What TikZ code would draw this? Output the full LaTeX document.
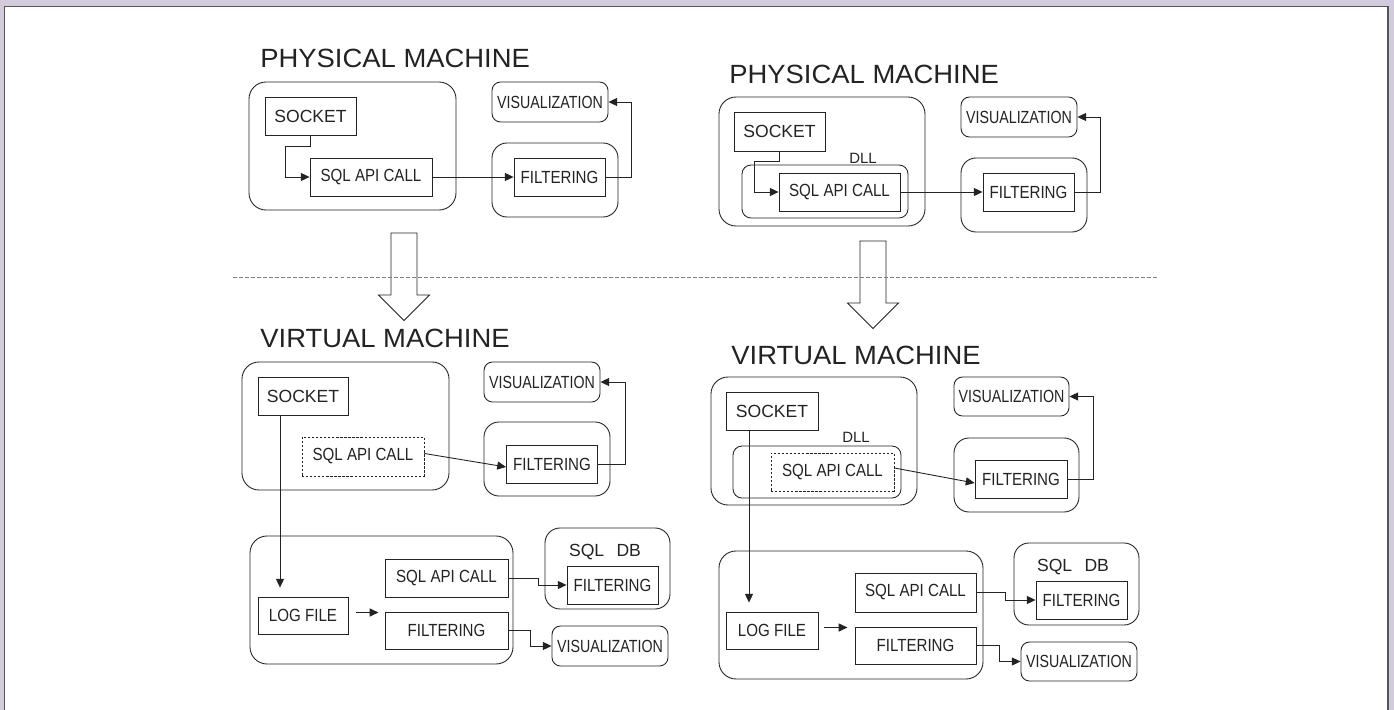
\documentclass[tikz,border=0pt]{standalone}
\usepackage{fontspec}
\setsansfont{Liberation Sans}
\newfontfamily\narrowsf[FakeStretch=0.86]{Liberation Sans}
\newfontfamily\vnarrowsf[FakeStretch=0.81]{Liberation Sans}
\newfontfamily\titlesf[FakeStretch=1.04]{Liberation Sans}
\usepackage{tikz}
\usetikzlibrary{arrows.meta,positioning,calc}
\definecolor{frameback}{RGB}{211,202,221}
\definecolor{frameline}{RGB}{85,85,85}
\definecolor{ink}{RGB}{35,35,35}

\def\pw{0.02cm}
\tikzset{
  sz/.style 2 args={minimum width=#1*\pw, minimum height=#2*\pw},
  box/.style={draw=ink, line width=0.5pt, inner sep=0pt, text=ink, font=\narrowsf\fontsize{10}{12}\selectfont},
  sockbox/.style={box, font=\sffamily\fontsize{10}{12}\selectfont},
  visbox/.style={box, rounded corners=0.17cm, font=\vnarrowsf\fontsize{10}{12}\selectfont},
  apibox/.style={box, dash pattern=on 1.3pt off 1pt},
  machine/.style={draw=ink, line width=0.5pt, rounded corners=0.34cm, inner sep=0pt},
  holder/.style={draw=ink, line width=0.5pt, rounded corners=0.3cm, inner sep=0pt},
  dllbox/.style={draw=ink, line width=0.5pt, rounded corners=0.18cm, inner sep=0pt},
  title/.style={anchor=base west, inner sep=0pt, text=ink, font=\titlesf\fontsize{15}{18}\selectfont},
  small/.style={inner sep=0pt, text=ink, font=\sffamily\fontsize{8.5}{10}\selectfont},
  dbtext/.style={inner sep=0pt, text=ink, font=\sffamily\fontsize{10}{12}\selectfont},
  flow/.style={->, draw=ink, line width=0.5pt},
  >={Triangle[length=5pt,width=4.6pt]}
}

\begin{document}
\begin{tikzpicture}[x=0.02cm, y=-0.02cm]
    \useasboundingbox (0,0) rectangle (1394,710);
    % frame
    \fill[frameback] (0,0) rectangle (1394,710);
    \fill[white] (4.5,6.5) rectangle (1388,710);
    \draw[frameline, line width=1.1pt] (4.5,710) -- (4.5,6.5) -- (1388,6.5) -- (1388,710);

    % physical machine (left)
    \node[title] (titA) at (260,68) {PHYSICAL MACHINE};
    \node[machine, sz={207}{128}] (pmA) at (352.5,146) {};
    \node[sockbox, sz={91}{38}] (sockA) at (310.5,116) {SOCKET};
    \node[box, sz={122}{38}] (sqlA) at (371,177) {SQL API CALL};
    \node[visbox, sz={116}{40}] (visA) at (550,102) {VISUALIZATION};
    \node[holder, sz={126}{74}] (fbA) at (555,180) {};
    \node[box, sz={91}{38}] (filA) at (559.5,177) {FILTERING};
    \draw[flow] (sockA.south) -- ++(0,11) -| ([xshift=-24*\pw]sqlA.west) -- (sqlA.west);
    \draw[flow] (sqlA) -- (filA);
    \draw[flow] (filA.east) -- ++(26,0) |- (visA.east);

    % physical machine (right), with DLL
    \node[title] (titB) at (729,83) {PHYSICAL MACHINE};
    \node[machine, sz={206}{129}] (pmB) at (822,161.5) {};
    \node[sockbox, sz={91}{39}] (sockB) at (779.5,131.5) {SOCKET};
    \node[dllbox, sz={166}{53}] (dllB) at (825,191.5) {};
    \node[small] (dllLblB) at (863,158) {DLL};
    \node[box, sz={121}{38}] (sqlB) at (839.5,192) {SQL API CALL};
    \node[visbox, sz={116}{40}] (visB) at (1019,117) {VISUALIZATION};
    \node[holder, sz={126}{74}] (fbB) at (1024,195) {};
    \node[box, sz={91}{38}] (filB) at (1028.5,192) {FILTERING};
    \draw[flow] (sockB.south) -- ++(0,10) -| ([xshift=-24*\pw]sqlB.west) -- (sqlB.west);
    \draw[flow] (sqlB) -- (filB);
    \draw[flow] (filB.east) -- ++(26,0) |- (visB.east);

    % hollow arrows and separator
    \foreach \x/\y in {404/233, 873/241}
        \draw[ink, line width=0.5pt] (\x-13,\y) -- (\x+13,\y) -- (\x+13,\y+62) -- (\x+25.5,\y+62)
            -- (\x,\y+87.5) -- (\x-25.5,\y+62) -- (\x-13,\y+62) -- cycle;
    \draw[gray, line width=0.6pt, dash pattern=on 2.2pt off 1.2pt] (233,277.5) -- (1158,277.5);

    % virtual machine (left)
    \node[title] (titC) at (260,347) {VIRTUAL MACHINE};
    \node[machine, sz={207}{128}] (vmC) at (345.5,426) {};
    \node[sockbox, sz={90}{38}] (sockC) at (303,396) {SOCKET};
    \node[apibox, sz={122}{39}] (sqlC) at (363,456.5) {SQL API CALL};
    \node[visbox, sz={116}{40}] (visC) at (542,382) {VISUALIZATION};
    \node[holder, sz={126}{74}] (fbC) at (547,459) {};
    \node[box, sz={91}{38}] (filC) at (552,464) {FILTERING};
    \draw[flow] ([yshift=3*\pw]sqlC.east) -- ([yshift=-3*\pw]filC.west);
    \draw[flow] (filC.east) -- ++(27,0) |- (visC.east);

    \node[machine, sz={263}{128}] (lbC) at (381.5,600) {};
    \node[box, sz={123}{38}] (sql2C) at (446.5,578) {SQL API CALL};
    \node[box, sz={90}{37}] (logC) at (303,615.5) {LOG FILE};
    \node[box, sz={123}{37}] (fil2C) at (446.5,630.5) {FILTERING};
    \node[holder, sz={125}{81}] (dbC) at (607.5,568.5) {};
    \node[dbtext] (dbLblC) at (605,552) {SQL\hspace{7pt}DB};
    \node[box, sz={91}{38}] (dbfilC) at (612.5,585) {FILTERING};
    \node[visbox, sz={116}{40}] (vis2C) at (610,646) {VISUALIZATION};
    \draw[flow] ([xshift=-23*\pw]sockC.south) -- ([xshift=-23*\pw, yshift=9*\pw]logC.north);
    \draw[flow] ([xshift=8*\pw, yshift=3*\pw]logC.east) -- ([xshift=30*\pw, yshift=3*\pw]logC.east);
    \draw[flow] (sql2C.east) -- ++(30,0) |- (dbfilC.west);
    \draw[flow] (fil2C.east) -- ++(22,0) |- (vis2C.west);

    % virtual machine (right), with DLL
    \node[title] (titD) at (731,364) {VIRTUAL MACHINE};
    \node[machine, sz={206}{128}] (vmD) at (814,441) {};
    \node[sockbox, sz={92}{38}] (sockD) at (772,411) {SOCKET};
    \node[dllbox, sz={168}{52}] (dllD) at (817,472) {};
    \node[small] (dllLblD) at (856,437) {DLL};
    \node[apibox, sz={123}{38}] (sqlD) at (832.5,472) {SQL API CALL};
    \node[visbox, sz={115}{39}] (visD) at (1011.5,396.5) {VISUALIZATION};
    \node[holder, sz={125}{74}] (fbD) at (1016.5,475) {};
    \node[box, sz={92}{38}] (filD) at (1021,479) {FILTERING};
    \draw[flow] ([yshift=4*\pw]sqlD.east) -- ([yshift=-4*\pw]filD.west);
    \draw[flow] (filD.east) -- ++(26,0) |- (visD.east);

    \node[machine, sz={264}{128}] (lbD) at (851,615) {};
    \node[box, sz={121}{39}] (sql2D) at (915.5,592.5) {SQL API CALL};
    \node[box, sz={92}{37}] (logD) at (772,630.5) {LOG FILE};
    \node[box, sz={121}{37}] (fil2D) at (915.5,645.5) {FILTERING};
    \node[holder, sz={125}{82}] (dbD) at (1076.5,584) {};
    \node[dbtext] (dbLblD) at (1073,567) {SQL\hspace{7pt}DB};
    \node[box, sz={91}{38}] (dbfilD) at (1081.5,600) {FILTERING};
    \node[visbox, sz={116}{39}] (vis2D) at (1079,661.5) {VISUALIZATION};
    \draw[flow] ([xshift=-23*\pw]sockD.south) -- ([xshift=-23*\pw, yshift=9*\pw]logD.north);
    \draw[flow] ([xshift=6*\pw, yshift=3*\pw]logD.east) -- ([xshift=29*\pw, yshift=3*\pw]logD.east);
    \draw[flow] (sql2D.east) -- ++(29,0) |- (dbfilD.west);
    \draw[flow] (fil2D.east) -- ++(23,0) |- (vis2D.west);
\end{tikzpicture}
\end{document}
